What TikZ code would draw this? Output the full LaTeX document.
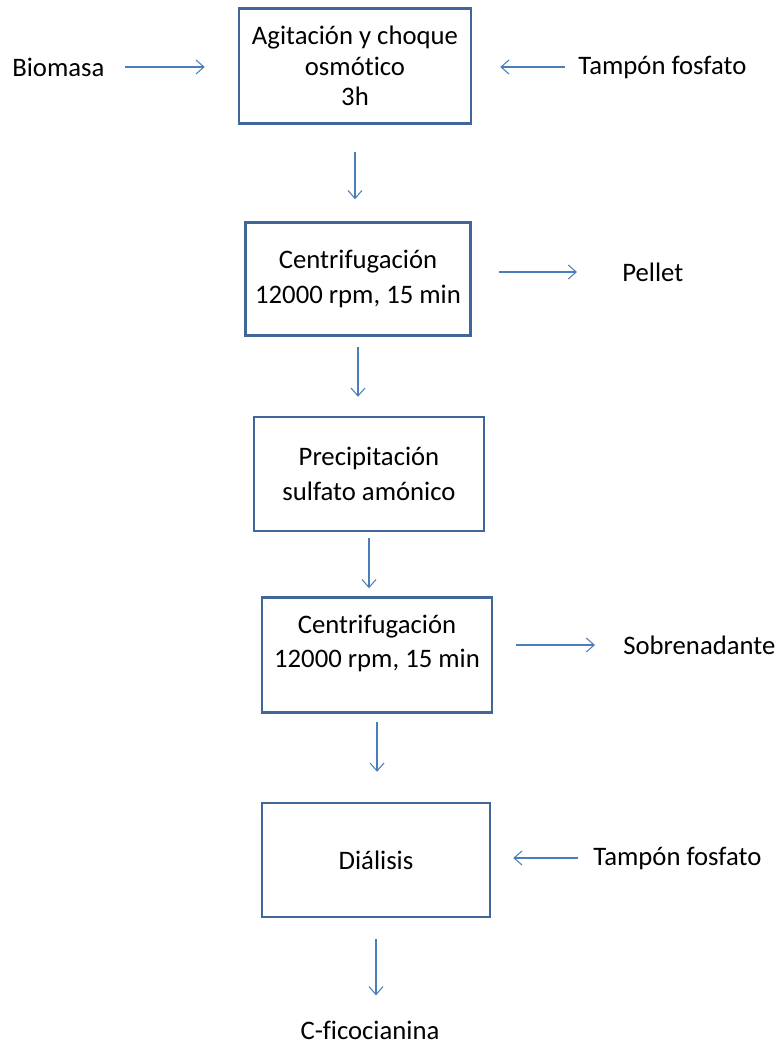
\documentclass[tikz,border=0pt]{standalone}
\usepackage{fontspec}
\setmainfont[Ligatures=NoCommon]{Carlito}
\usetikzlibrary{arrows.meta, calc}

\definecolor{boxblue}{HTML}{41669A}
\definecolor{arrowblue}{HTML}{4A7EBB}

\tikzset{
    stepbox/.style={draw=boxblue, line width=1.4pt, align=center, inner sep=0,
        font=\fontsize{15.2}{17.5}\selectfont},
    label/.style={inner sep=0, font=\fontsize{15.2}{17.5}\selectfont},
    flow/.style={draw=arrowblue, line width=0.6pt,
        -{Straight Barb[length=1.6mm, width=2.8mm]}}
}

\begin{document}
\begin{tikzpicture}[x=0.02cm, y=-0.02cm]
% Frame
\useasboundingbox (0,0) rectangle (778,1052);

% Steps
\node[stepbox, minimum width=232*0.02cm, minimum height=115*0.02cm] (agit) at (355,66)
    {Agitación y choque\\osmótico\\3h};
\node[stepbox, minimum width=225*0.02cm, minimum height=113*0.02cm] (cent1) at (358,279)
    {Centrifugación\\[2pt]12000 rpm, 15 min};
\node[stepbox, minimum width=230*0.02cm, minimum height=114*0.02cm] (prec) at (369,474)
    {Precipitación\\[2pt]sulfato amónico};
\node[stepbox, minimum width=230*0.02cm, minimum height=115*0.02cm, text depth=16pt] (cent2) at (377,655)
    {Centrifugación\\[2pt]12000 rpm, 15 min};
\node[stepbox, minimum width=228*0.02cm, minimum height=114*0.02cm] (dial) at (376,860)
    {Diálisis};

% Inputs and outputs
\node[label, anchor=west] (bio) at (12,67) {Biomasa};
\node[label, anchor=west] (tamp1) at (578,67) {Tampón fosfato};
\node[label, anchor=west] (pellet) at (622,272) {Pellet};
\node[label, anchor=west] (sobre) at (623,645) {Sobrenadante};
\node[label, anchor=west] (tamp2) at (593,858) {Tampón fosfato};
\node[label] (cfico) at (370,1030) {C-ficocianina};

% Side arrows
\draw[flow, shorten <=0.4cm, shorten >=0.66cm] (bio) -- (agit.west |- bio);
\draw[flow, shorten <=0.26cm, shorten >=0.56cm] (tamp1) -- (agit.east |- tamp1);
\draw[flow, shorten <=0.54cm, shorten >=0.9cm] (cent1.east |- pellet) -- (pellet);
\draw[flow, shorten <=0.46cm, shorten >=0.56cm] (cent2.east |- sobre) -- (sobre);
\draw[flow, shorten <=0.3cm, shorten >=0.44cm] (tamp2) -- (dial.east |- tamp2);

% Down arrows
\draw[flow, shorten <=0.54cm, shorten >=0.44cm] (agit.south) -- (agit.south |- cent1.north);
\draw[flow, shorten <=0.2cm, shorten >=0.38cm] (cent1.south) -- (cent1.south |- prec.north);
\draw[flow, shorten <=0.12cm, shorten >=0.16cm] (prec.south) -- (prec.south |- cent2.north);
\draw[flow, shorten <=0.16cm, shorten >=0.6cm] (cent2.south) -- (cent2.south |- dial.north);
\draw[flow, shorten <=0.42cm, shorten >=0.5cm] (dial.south) -- (dial.south |- cfico.north);
\end{tikzpicture}
\end{document}
